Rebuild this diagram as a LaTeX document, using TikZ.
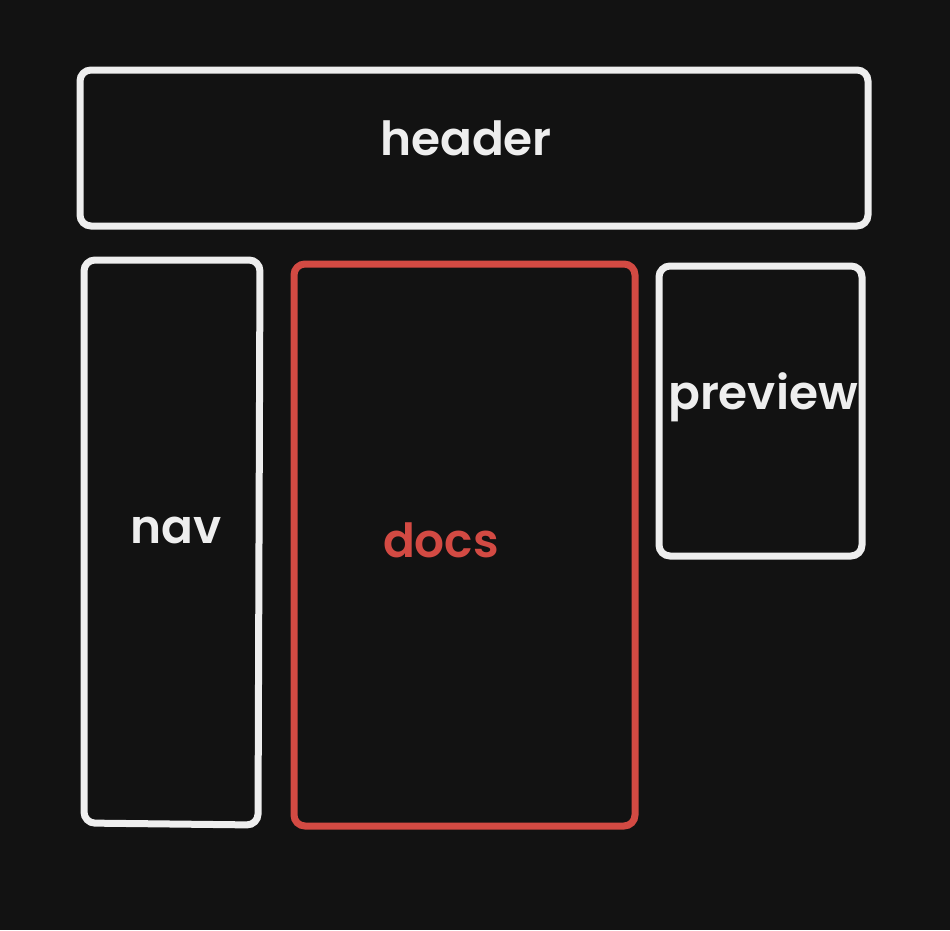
\documentclass[tikz,border=0pt]{standalone}
\usepackage{fontspec}
\setmainfont{Poppins}[UprightFont=* SemiBold]
\definecolor{bg}{HTML}{121212}
\definecolor{chalk}{HTML}{EEEEEE}
\definecolor{accent}{HTML}{D34A43}
\begin{document}
\begin{tikzpicture}[x=1pt,y=-1pt,
  panel/.style={draw=chalk, line width=7pt, rounded corners=11pt, inner sep=0pt},
  label/.style={text=chalk, font=\fontsize{47}{52}\selectfont}]
\fill[bg] (0,0) rectangle (950,930);
\useasboundingbox (0,0) rectangle (950,930);
% page regions
\draw[panel] (80,70) rectangle (868,226);
\draw[panel] (84,260) -- (260,260) -- (258,825) -- (84,823) -- cycle;
\draw[panel, draw=accent] (294,264) rectangle (635,826);
\draw[panel] (659,266) rectangle (862,556);
% region names
\node[label] (header) at (466,138) {header};
\node[label] (nav) at (176,530) {nav};
\node[label, text=accent] (docs) at (441,540) {docs};
\node[label] (preview) at (763,397) {preview};
\end{tikzpicture}
\end{document}
